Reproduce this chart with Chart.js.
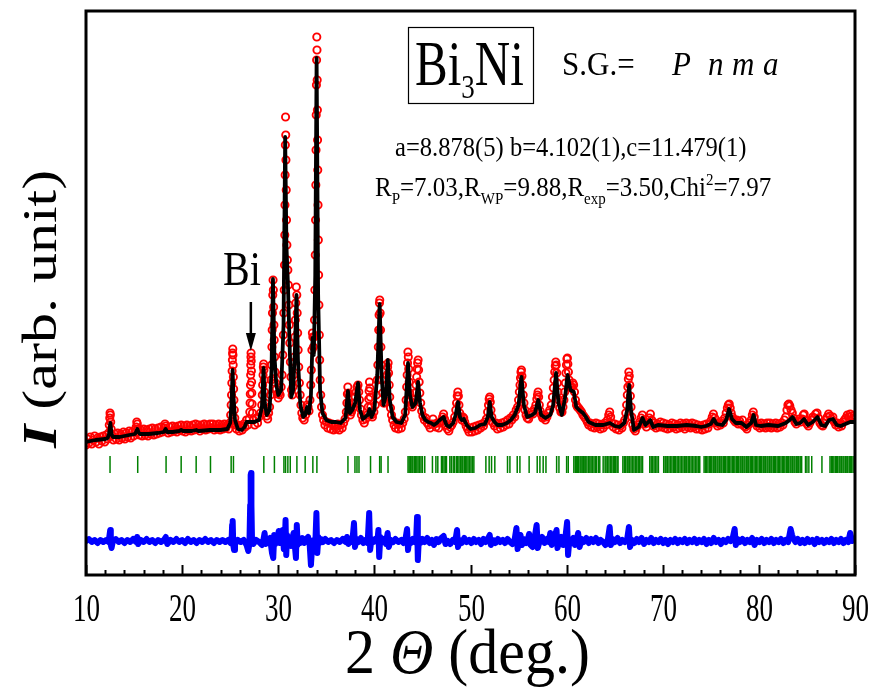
<!DOCTYPE html>
<html lang="en">
<head>
    <meta charset="UTF-8" />
    <title>Bi3Ni Rietveld refinement</title>
    <style>
        * { margin: 0; padding: 0; box-sizing: border-box; }
        body { background: #ffffff; width: 876px; height: 694px; overflow: hidden; }
        #xrdChart { display: block; }
    </style>
</head>
<body>
    <canvas id="xrdChart" width="876" height="694"></canvas>
    <script src="https://cdn.jsdelivr.net/npm/chart.js"></script>
    <script>
        // ---- data: 2theta (deg) / intensity (arb. unit) ----
        const observed = [
            [10.0,130],[10.15,136],[10.3,132],[10.45,138],[10.6,131],[10.75,135],[10.9,139],[11.05,133],[11.2,137],[11.35,131],
            [11.5,138],[11.65,134],[11.8,139],[11.95,133],[12.1,140],[12.25,136],
            [12.35,142],[12.42,150],[12.47,157],[12.5,162],[12.53,160],[12.57,153],[12.62,146],[12.7,140],
            [12.85,135],[13.0,141],[13.15,136],[13.3,142],[13.45,135],[13.6,141],[13.75,137],[13.9,143],[14.05,136],[14.2,142],
            [14.35,138],[14.5,144],[14.65,137],[14.8,143],[14.95,139],[15.1,145],
            [15.22,148],[15.28,153],[15.34,151],[15.42,146],
            [15.55,140],[15.7,145],[15.85,139],[16.0,146],[16.15,140],[16.3,145],[16.45,139],[16.6,146],[16.75,141],[16.9,147],
            [17.05,140],[17.2,146],[17.35,141],[17.5,147],[17.65,142],[17.8,148],[17.95,143],[18.1,147],[18.22,151],[18.3,149],
            [18.42,145],[18.55,142],[18.7,148],[18.85,143],[19.0,149],[19.15,144],[19.3,148],[19.45,143],[19.6,149],[19.75,145],
            [19.9,150],[20.05,144],[20.2,149],[20.35,143],[20.5,150],[20.65,145],[20.8,149],[20.95,144],[21.1,150],[21.25,145],
            [21.4,151],[21.55,146],[21.7,150],[21.85,144],[22.0,150],[22.15,146],[22.3,151],[22.45,145],[22.6,150],[22.75,146],
            [22.9,151],[23.05,147],[23.2,151],[23.35,145],[23.5,150],[23.65,146],[23.8,151],[23.95,145],[24.1,150],[24.25,146],
            [24.4,151],[24.55,147],[24.7,150],[24.85,146],[24.95,152],
            [25.05,160],[25.1,170],[25.14,180],[25.17,192],[25.2,204],[25.23,215],[25.25,222],[25.27,226],[25.29,220],[25.31,210],
            [25.33,198],[25.36,186],[25.39,175],[25.43,165],[25.48,157],[25.55,150],
            [25.65,146],[25.8,150],[25.95,144],[26.1,149],[26.25,145],[26.4,151],[26.55,148],[26.7,155],[26.85,150],[26.97,156],
            [27.04,163],[27.07,172],[27.09,181],[27.11,190],[27.13,200],[27.14,210],[27.16,218],[27.17,222],[27.19,214],[27.21,204],
            [27.23,193],[27.25,182],[27.28,171],[27.32,162],
            [27.4,155],[27.55,150],[27.7,157],[27.85,152],[28.0,158],[28.15,162],
            [28.28,170],[28.34,180],[28.38,190],[28.42,200],[28.45,208],[28.48,211],[28.51,205],[28.54,195],[28.58,183],[28.63,172],
            [28.7,164],[28.8,159],[28.9,156],[29.0,162],[29.1,168],
            [29.2,180],[29.26,195],[29.3,210],[29.34,228],[29.37,245],[29.4,262],[29.43,280],[29.46,295],[29.49,285],[29.52,268],
            [29.55,250],[29.58,235],[29.62,218],[29.67,203],[29.73,192],[29.8,186],[29.9,181],[30.0,177],[30.1,182],[30.2,180],
            [30.3,188],[30.4,200],
            [30.48,220],[30.53,240],[30.58,262],[30.62,285],[30.65,310],[30.68,340],[30.7,370],[30.72,400],[30.74,430],[30.76,458],
            [30.78,440],[30.8,415],[30.83,385],[30.86,355],[30.9,330],[30.95,315],[31.0,305],[31.05,290],[31.1,270],[31.15,250],
            [31.2,232],[31.26,213],[31.32,198],[31.38,185],[31.45,180],[31.52,188],[31.6,200],[31.67,218],[31.73,238],[31.78,255],
            [31.83,272],[31.88,288],[31.93,280],[31.97,262],[32.02,242],[32.07,225],[32.13,208],[32.2,192],[32.28,180],[32.36,170],
            [32.45,162],[32.55,157],[32.7,155],[32.85,160],[33.0,170],[33.1,168],[33.2,164],[33.3,175],[33.38,190],[33.44,205],
            [33.5,225],[33.55,242],[33.6,238],[33.66,228],[33.72,238],[33.77,255],[33.81,285],[33.85,320],[33.88,355],[33.91,390],
            [33.93,425],[33.95,460],[33.97,490],[33.99,515],[34.01,538],[34.03,525],[34.05,495],[34.07,465],[34.09,435],[34.11,405],
            [34.14,370],[34.17,335],[34.2,300],[34.23,270],[34.27,240],[34.31,215],[34.36,195],[34.42,180],[34.5,168],[34.6,160],
            [34.72,155],[34.85,150],[35.0,153],[35.15,147],[35.3,152],[35.45,146],[35.6,151],[35.75,145],[35.9,150],[36.05,146],
            [36.2,151],[36.35,145],[36.5,150],[36.65,147],[36.8,152],[36.95,156],
            [37.08,163],[37.14,172],[37.19,181],[37.24,188],[37.29,182],[37.34,172],[37.4,164],[37.5,160],[37.62,163],[37.75,167],
            [37.88,172],[38.0,178],[38.1,183],[38.2,188],[38.3,190],[38.38,183],[38.45,175],[38.55,166],[38.65,160],[38.8,155],
            [38.95,152],[39.1,156],[39.25,160],
            [39.36,168],[39.41,176],[39.45,184],[39.49,193],[39.53,187],[39.57,178],[39.62,168],[39.7,160],[39.8,158],[39.95,163],
            [40.1,170],[40.2,180],
            [40.3,195],[40.36,210],[40.41,228],[40.45,245],[40.49,260],[40.53,272],[40.56,275],[40.6,262],[40.64,245],[40.68,228],
            [40.73,210],[40.79,195],[40.86,182],[40.95,172],[41.05,172],[41.15,180],[41.25,190],[41.32,200],[41.38,208],[41.43,212],
            [41.48,202],[41.54,190],[41.6,178],[41.68,167],[41.78,160],[41.9,155],[42.05,150],[42.2,147],[42.35,152],[42.5,146],
            [42.65,151],[42.8,147],[42.95,152],[43.1,156],
            [43.22,163],[43.3,175],[43.36,188],[43.41,200],[43.45,212],[43.49,223],[43.53,218],[43.57,206],[43.62,193],[43.68,182],
            [43.76,174],[43.85,170],[43.95,168],[44.05,172],[44.15,176],[44.25,182],[44.33,190],[44.4,198],[44.45,206],[44.5,212],
            [44.55,215],[44.6,205],[44.66,193],[44.73,182],[44.82,172],[44.92,164],[45.05,159],[45.2,155],[45.35,157],[45.5,152],
            [45.65,150],[45.8,147],[45.95,151],[46.1,156],[46.25,151],[46.4,148],[46.55,152],[46.7,147],[46.85,152],[47.0,154],
            [47.1,158],[47.2,161],[47.3,156],[47.45,150],[47.6,146],[47.75,144],[47.9,148],[48.05,150],[48.2,153],[48.35,158],
            [48.47,165],[48.55,172],[48.62,179],[48.68,183],[48.74,179],[48.8,170],[48.88,162],[48.98,158],[49.1,155],[49.2,158],
            [49.3,157],[49.4,153],[49.55,149],[49.7,146],[49.85,143],[50.0,147],[50.15,143],[50.3,148],[50.45,144],[50.6,149],
            [50.75,145],[50.9,150],[51.05,147],[51.2,151],[51.35,149],[51.5,153],[51.65,156],[51.78,163],[51.87,170],[51.94,176],
            [52.0,178],[52.06,173],[52.13,165],[52.22,158],[52.35,152],[52.5,149],[52.65,152],[52.8,146],[52.95,151],[53.1,147],
            [53.25,152],[53.4,148],[53.55,153],[53.7,150],[53.85,155],[54.0,151],[54.15,157],[54.3,155],[54.45,160],[54.6,158],
            [54.75,165],[54.9,168],[55.0,175],
            [55.08,183],[55.15,190],[55.2,197],[55.25,203],[55.3,205],[55.35,199],[55.41,190],[55.48,180],[55.56,172],[55.66,165],
            [55.78,160],[55.9,157],[56.05,156],[56.2,160],[56.35,163],[56.5,161],[56.65,166],[56.8,170],[56.9,176],
            [56.97,180],[57.03,183],[57.09,178],[57.16,170],[57.25,164],[57.38,160],[57.5,157],[57.65,158],[57.8,155],[57.95,158],
            [58.1,162],[58.25,165],[58.4,170],[58.52,178],[58.62,187],
            [58.7,195],[58.76,203],[58.82,209],[58.87,213],[58.92,210],[58.97,202],[59.03,192],[59.1,183],[59.18,175],[59.28,167],
            [59.4,163],[59.52,163],[59.62,168],[59.72,175],[59.8,183],[59.87,192],[59.93,202],[59.98,210],[60.03,216],[60.08,217],
            [60.13,211],[60.19,203],[60.26,195],[60.35,190],[60.45,187],[60.55,188],[60.65,192],[60.73,190],[60.82,183],[60.92,175],
            [61.02,170],[61.12,168],[61.25,167],[61.4,165],[61.55,163],[61.7,160],[61.85,158],[62.0,156],[62.15,153],[62.3,150],
            [62.45,152],[62.6,148],[62.75,151],[62.9,147],[63.05,152],[63.2,148],[63.35,151],[63.5,146],[63.65,150],[63.8,147],
            [63.95,152],[64.1,150],[64.25,155],[64.38,160],[64.48,163],[64.58,158],[64.7,152],[64.85,148],[65.0,151],[65.15,146],
            [65.3,150],[65.45,145],[65.6,149],[65.75,147],[65.9,152],[66.05,155],[66.15,162],
            [66.24,170],[66.31,180],[66.37,188],[66.42,196],[66.47,203],[66.52,199],[66.57,190],[66.63,179],[66.7,168],[66.78,158],
            [66.88,150],[67.0,146],[67.15,144],[67.3,148],[67.45,150],[67.6,153],[67.75,157],[67.88,160],[68.0,155],[68.15,151],
            [68.3,148],[68.45,152],[68.6,157],[68.72,161],[68.85,155],[69.0,149],[69.15,152],[69.3,147],[69.45,151],[69.6,148],
            [69.75,153],[69.9,148],[70.05,152],[70.2,147],[70.35,151],[70.5,146],[70.65,150],[70.8,147],[70.95,152],[71.1,148],
            [71.25,151],[71.4,146],[71.55,150],[71.7,147],[71.85,152],[72.0,148],[72.15,151],[72.3,146],[72.45,152],[72.6,148],
            [72.75,151],[72.9,147],[73.05,152],[73.2,148],[73.35,151],[73.5,146],[73.65,150],[73.8,146],[73.95,149],[74.1,145],
            [74.25,150],[74.4,146],[74.55,151],[74.7,147],[74.85,151],[75.0,154],[75.15,158],[75.27,161],[75.4,157],[75.55,152],
            [75.7,149],[75.85,152],[76.0,150],[76.15,154],[76.3,152],[76.45,157],[76.6,162],[76.72,167],[76.82,170],[76.92,171],
            [77.02,167],[77.12,162],[77.25,158],[77.4,155],[77.55,153],[77.7,155],[77.85,151],[78.0,154],[78.15,151],[78.3,155],
            [78.45,149],[78.6,148],[78.75,146],[78.9,150],[79.05,152],[79.2,155],[79.32,160],[79.42,163],[79.52,158],[79.65,152],
            [79.8,149],[79.95,151],[80.1,147],[80.25,152],[80.4,148],[80.55,151],[80.7,147],[80.85,152],[81.0,148],[81.15,152],
            [81.3,147],[81.45,151],[81.6,148],[81.75,152],[81.9,147],[82.05,151],[82.2,148],[82.35,152],[82.5,150],[82.65,155],
            [82.8,158],[82.92,165],[83.02,170],[83.12,171],[83.22,169],[83.35,165],[83.48,162],[83.6,157],[83.75,153],[83.9,151],
            [84.05,154],[84.2,156],[84.35,153],[84.5,156],[84.62,160],[84.72,161],[84.85,155],[85.0,151],[85.15,149],[85.3,152],
            [85.45,155],[85.6,158],[85.75,157],[85.9,161],[86.05,162],[86.2,157],[86.35,152],[86.5,150],[86.65,149],[86.8,152],
            [86.95,155],[87.1,158],[87.25,161],[87.4,159],[87.55,156],[87.7,158],[87.85,153],[88.0,150],[88.15,152],[88.3,148],
            [88.45,151],[88.6,149],[88.75,153],[88.9,155],[89.05,157],[89.2,160],[89.35,158],[89.5,161],[89.65,159],[89.8,157],
            [89.95,160]
        ];

        const calculated = [
            [10.0,133],[11.0,135],[12.0,136],[12.25,137],[12.4,141],[12.53,152],[12.66,141],[12.8,138],[13.5,138],[14.5,140],
            [15.1,141],[15.25,144],[15.34,146],[15.45,143],[15.6,141],[16.5,141],[17.5,142],[18.1,143],[18.28,146],[18.45,143],
            [19.0,143],[19.7,144],[19.9,145],[20.1,144],[21.0,144],[21.46,145],[21.7,144],[22.9,145],[23.1,145],[24.0,145],
            [24.7,146],[25.0,152],[25.15,175],[25.25,205],[25.35,178],[25.5,155],[25.8,146],[26.2,145],[26.5,148],[26.7,153],
            [27.5,153],[28.0,155],[28.3,168],[28.47,207],[28.6,172],[28.8,160],[29.1,165],[29.3,205],[29.45,296],[29.6,220],
            [29.8,190],[30.0,180],[30.3,185],[30.55,250],[30.72,438],[30.85,330],[31.0,293],[31.15,240],[31.35,178],[31.55,185],
            [31.75,230],[31.9,280],[32.05,215],[32.3,170],[32.6,158],[32.8,160],[33.0,168],[33.2,162],[33.4,180],[33.57,237],
            [33.7,220],[33.85,300],[33.99,517],[34.15,280],[34.35,185],[34.6,162],[35.0,155],[35.5,153],[36.0,153],[36.5,152],
            [37.0,157],[37.25,184],[37.45,162],[37.7,165],[38.0,172],[38.3,192],[38.5,165],[38.8,156],[39.3,160],[39.5,166],
            [39.7,158],[40.0,165],[40.3,200],[40.55,271],[40.75,200],[40.95,170],[41.2,180],[41.4,215],[41.6,175],[41.9,158],
            [42.3,153],[42.8,152],[43.2,160],[43.35,185],[43.5,212],[43.7,180],[43.95,168],[44.3,172],[44.55,193],[44.75,172],
            [45.0,160],[45.3,155],[45.6,153],[45.9,152],[46.2,150],[46.5,152],[46.8,155],[47.2,158],[47.5,150],[47.8,148],
            [48.2,152],[48.45,160],[48.7,173],[48.9,158],[49.1,155],[49.3,156],[49.6,150],[50.0,146],[50.5,147],[51.0,150],
            [51.5,151],[51.8,158],[52.0,173],[52.2,158],[52.5,153],[52.8,150],[53.3,150],[53.8,152],[54.2,155],[54.6,160],
            [55.0,170],[55.3,198],[55.55,170],[55.9,158],[56.4,160],[56.7,162],[57.05,175],[57.35,160],[57.8,157],[58.3,160],
            [58.6,170],[58.9,202],[59.15,172],[59.5,160],[59.8,175],[60.1,200],[60.4,185],[60.75,183],[61.0,168],[61.3,165],
            [61.7,162],[62.0,158],[62.3,153],[63.0,150],[63.8,150],[64.5,152],[65.0,149],[65.5,148],[66.0,152],[66.3,165],
            [66.5,190],[66.7,165],[67.0,145],[67.5,148],[67.9,157],[68.2,150],[68.7,155],[69.0,148],[69.5,150],[70.5,149],
            [71.5,149],[72.5,150],[73.5,149],[74.0,148],[74.5,149],[75.0,151],[75.3,156],[75.6,151],[76.2,150],[76.6,155],
            [76.9,166],[77.2,156],[77.6,152],[78.2,152],[78.7,148],[79.2,152],[79.45,160],[79.7,150],[80.2,149],[81.0,150],
            [82.0,149],[82.8,152],[83.2,155],[83.5,158],[83.9,151],[84.3,152],[84.7,156],[85.1,150],[85.6,153],[86.1,158],
            [86.5,150],[86.9,149],[87.3,155],[87.7,156],[88.1,150],[88.5,149],[89.0,151],[89.5,153],[90.0,153]
        ];

        // observed - calculated, shifted below the pattern
        const difference = [
            [10.0,34],[10.3,36],[10.6,33],[10.9,35],[11.2,32],[11.5,35],[11.8,33],[12.1,35],[12.35,33],[12.45,40],
            [12.52,45],[12.58,30],[12.66,27],[12.8,34],[13.1,36],[13.4,33],[13.7,35],[14.0,32],[14.3,35],[14.6,33],
            [14.9,36],[15.2,33],[15.32,38],[15.42,31],[15.7,35],[16.0,33],[16.3,36],[16.6,33],[16.9,35],[17.2,32],
            [17.5,35],[17.8,33],[18.1,35],[18.3,38],[18.45,31],[18.8,35],[19.1,33],[19.4,36],[19.7,33],[20.0,35],
            [20.3,32],[20.6,36],[20.9,33],[21.2,35],[21.5,32],[21.8,35],[22.1,33],[22.4,36],[22.7,33],[23.0,35],
            [23.3,32],[23.6,35],[23.9,33],[24.2,35],[24.5,33],[24.8,35],[25.05,32],[25.15,36],[25.2,50],[25.26,54],
            [25.32,30],[25.4,25],[25.5,31],[25.8,35],[26.1,33],[26.4,35],[26.7,30],[26.88,24],[27.0,31],[27.08,70],
            [27.13,100],[27.17,102],[27.21,70],[27.27,36],[27.4,31],[27.7,35],[28.0,33],[28.3,30],[28.45,35],[28.58,42],
            [28.7,31],[28.95,35],[29.15,37],[29.35,22],[29.48,17],[29.58,40],[29.7,31],[29.9,35],[30.05,44],[30.15,32],
            [30.3,35],[30.45,45],[30.58,26],[30.7,38],[30.76,55],[30.83,20],[30.92,40],[31.05,33],[31.2,37],[31.32,29],
            [31.45,36],[31.6,42],[31.72,30],[31.84,17],[31.93,50],[32.02,30],[32.15,36],[32.3,32],[32.5,37],[32.7,32],
            [32.9,36],[33.1,38],[33.25,33],[33.4,10],[33.52,28],[33.7,35],[33.85,30],[33.97,62],[34.06,22],[34.18,38],
            [34.3,32],[34.45,36],[34.65,33],[34.9,36],[35.2,33],[35.5,35],[35.8,32],[36.1,35],[36.4,33],[36.7,36],
            [37.0,33],[37.15,38],[37.3,31],[37.5,35],[37.7,33],[37.88,52],[37.98,28],[38.15,36],[38.35,33],[38.6,37],
            [38.85,32],[39.1,35],[39.3,32],[39.46,62],[39.56,25],[39.7,36],[39.9,33],[40.1,36],[40.3,33],[40.42,45],
            [40.5,18],[40.62,38],[40.8,33],[41.0,36],[41.2,31],[41.38,42],[41.5,28],[41.7,35],[41.95,33],[42.2,36],
            [42.5,33],[42.8,35],[43.05,32],[43.25,37],[43.4,46],[43.5,25],[43.62,35],[43.8,32],[44.0,36],[44.2,33],
            [44.35,37],[44.44,58],[44.52,15],[44.62,35],[44.8,32],[45.0,36],[45.25,33],[45.5,37],[45.75,32],[46.0,35],
            [46.2,30],[46.45,36],[46.7,33],[46.95,37],[47.2,39],[47.4,31],[47.65,34],[47.9,31],[48.15,35],[48.4,33],
            [48.6,45],[48.7,28],[48.85,35],[49.1,32],[49.35,37],[49.6,33],[49.85,35],[50.1,32],[50.35,36],[50.6,33],
            [50.85,35],[51.1,31],[51.35,36],[51.6,33],[51.85,37],[52.0,40],[52.12,30],[52.35,35],[52.6,32],[52.85,36],
            [53.1,33],[53.35,35],[53.6,32],[53.85,36],[54.1,33],[54.35,31],[54.6,36],[54.78,47],[54.9,26],[55.05,35],
            [55.2,40],[55.35,30],[55.55,36],[55.8,32],[56.0,37],[56.1,41],[56.25,30],[56.45,28],[56.65,36],[56.88,50],
            [57.0,27],[57.2,34],[57.45,38],[57.7,32],[57.95,36],[58.15,33],[58.3,42],[58.45,30],[58.65,35],[58.95,45],
            [59.05,27],[59.25,34],[59.45,38],[59.65,30],[59.85,36],[60.05,53],[60.15,20],[60.3,36],[60.5,33],[60.7,37],
            [60.85,30],[61.05,36],[61.2,42],[61.35,28],[61.55,36],[61.8,33],[62.05,37],[62.3,32],[62.55,36],[62.8,33],
            [63.05,37],[63.3,32],[63.55,35],[63.8,33],[64.05,30],[64.3,36],[64.48,48],[64.6,30],[64.8,36],[65.05,33],
            [65.3,37],[65.55,32],[65.8,35],[66.05,33],[66.3,36],[66.48,48],[66.6,28],[66.8,35],[67.05,32],[67.3,36],
            [67.55,33],[67.8,37],[68.05,31],[68.3,35],[68.55,33],[68.8,37],[69.05,32],[69.3,35],[69.55,33],[69.8,36],
            [70.05,32],[70.3,35],[70.55,31],[70.8,35],[71.05,33],[71.3,36],[71.55,32],[71.8,35],[72.05,33],[72.3,36],
            [72.55,32],[72.8,35],[73.05,33],[73.3,36],[73.55,32],[73.8,35],[74.05,33],[74.3,36],[74.55,31],[74.8,35],
            [75.05,32],[75.3,37],[75.55,33],[75.8,35],[76.05,31],[76.3,35],[76.55,33],[76.8,36],[77.05,34],[77.3,38],
            [77.48,46],[77.6,30],[77.8,36],[78.05,33],[78.3,36],[78.55,32],[78.8,35],[79.05,33],[79.3,37],[79.55,30],
            [79.8,35],[80.05,33],[80.3,36],[80.55,32],[80.8,35],[81.05,33],[81.3,36],[81.55,32],[81.8,35],[82.05,33],
            [82.3,36],[82.55,32],[82.8,35],[83.05,33],[83.3,46],[83.45,40],[83.6,36],[83.8,33],[84.05,36],[84.3,32],
            [84.55,35],[84.8,32],[85.05,36],[85.3,33],[85.55,35],[85.8,31],[86.05,36],[86.3,33],[86.55,35],[86.8,32],
            [87.05,35],[87.3,33],[87.55,36],[87.8,32],[88.05,35],[88.3,33],[88.55,36],[88.8,32],[89.05,35],[89.3,33],
            [89.5,42],[89.7,34],[90.0,36]
        ];

        // Bragg reflection positions of Bi3Ni (Pnma)
        const braggPositions = [
            12.5,15.38,18.33,19.9,21.46,22.95,25.1,25.34,28.5,29.6,30.59,30.76,31.0,31.25,31.94,32.8,33.6,34.02,
            37.25,37.98,38.19,38.4,39.6,40.55,40.7,41.42,
            43.5,43.62,43.75,43.9,44.0,44.15,44.3,44.42,44.55,44.7,44.85,45.0,45.24,46.04,46.4,46.6,
            46.98,47.1,47.25,47.4,47.5,47.85,48.0,48.2,48.35,48.54,48.65,48.8,48.95,49.1,49.2,49.35,49.5,49.62,49.75,49.9,50.05,50.2,50.35,
            51.6,51.94,52.19,52.53,53.85,54.1,54.86,55.14,56.1,56.94,57.22,57.56,57.85,58.96,59.2,60.0,60.17,
            60.75,60.9,61.0,61.12,61.25,61.4,61.5,61.62,61.78,61.9,62.0,62.12,62.3,62.42,62.55,62.7,62.85,63.0,63.1,63.3,63.45,
            63.8,64.0,64.1,64.25,64.4,64.55,64.7,64.85,65.0,65.1,65.25,65.35,
            65.85,66.0,66.15,66.3,66.4,66.55,66.7,66.85,67.0,67.15,67.3,67.45,67.6,67.75,67.9,
            68.65,68.8,68.95,69.1,69.25,69.4,69.55,
            70.1,70.25,70.35,70.5,70.65,70.8,70.95,71.1,71.2,71.35,71.5,71.65,71.8,71.95,72.1,72.25,72.4,72.5,72.65,72.8,72.95,
            73.1,73.25,73.4,73.55,73.7,73.85,
            74.3,74.45,74.55,74.7,74.85,74.95,75.1,75.25,75.35,75.5,75.65,75.75,75.9,76.05,76.15,76.3,76.45,76.55,76.7,76.85,76.95,
            77.1,77.25,77.35,77.5,77.65,77.75,77.9,78.05,78.15,78.3,78.45,78.55,78.7,78.85,78.95,79.1,79.25,79.35,79.5,79.65,79.75,
            79.9,80.05,80.15,80.3,80.45,80.55,80.7,80.85,80.95,81.1,81.25,81.35,81.5,81.65,81.75,81.9,82.05,82.15,82.3,82.45,82.55,
            82.7,82.85,82.95,83.1,83.25,83.35,83.5,83.65,83.75,83.9,84.05,84.15,84.3,84.45,
            84.85,85.0,85.2,85.5,86.56,
            87.4,87.55,87.65,87.8,87.95,88.05,88.2,88.35,88.45,88.6,88.75,88.85,89.0,89.15,89.25,89.4,89.55,89.65,89.8,89.95
        ];
        const braggLevel = 110.5;   // height at which the reflection markers sit

        const tickLabels = [10, 20, 30, 40, 50, 60, 70, 80, 90];
        const minorTicks = [12,14,16,18,22,24,26,28,32,34,36,38,42,44,46,48,52,54,56,58,62,64,66,68,72,74,76,78,82,84,86,88];
        const biPeak = 27.15;

        const SERIF = '"Liberation Serif", "Times New Roman", serif';

        // text stretched vertically like the original figure
        function tallText(ctx, text, x, y, font, sy, align) {
            ctx.save();
            ctx.translate(x, y);
            ctx.scale(1, sy);
            ctx.font = font;
            ctx.textAlign = align || 'left';
            ctx.textBaseline = 'alphabetic';
            ctx.fillText(text, 0, 0);
            ctx.restore();
        }

        // runs of text with sub / superscripts: [text, size, dy, style]
        function richText(ctx, runs, x, y, sy) {
            let cx = x;
            runs.forEach(r => {
                const font = (r[3] || '') + ' ' + r[1] + 'px ' + SERIF;
                tallText(ctx, r[0], cx, y + (r[2] || 0), font, sy);
                ctx.save();
                ctx.font = font;
                cx += ctx.measureText(r[0]).width;
                ctx.restore();
            });
        }

        const decorations = {
            id: 'decorations',
            afterDraw(chart) {
                const ctx = chart.ctx;
                const area = chart.chartArea;
                const xs = chart.scales.x;
                ctx.save();
                ctx.fillStyle = '#000';
                ctx.strokeStyle = '#000';

                // frame
                ctx.lineWidth = 3;
                ctx.strokeRect(area.left, area.top, area.right - area.left, area.bottom - area.top);

                // bottom ticks, pointing inwards
                ctx.lineWidth = 2;
                tickLabels.forEach(v => {
                    const px = Math.round(xs.getPixelForValue(v)) + 0.5;
                    ctx.beginPath(); ctx.moveTo(px, area.bottom); ctx.lineTo(px, area.bottom - 10); ctx.stroke();
                    tallText(ctx, String(v), px, 621, '27px ' + SERIF, 1.45, 'center');
                });
                minorTicks.forEach(v => {
                    const px = Math.round(xs.getPixelForValue(v)) + 0.5;
                    ctx.beginPath(); ctx.moveTo(px, area.bottom); ctx.lineTo(px, area.bottom - 5); ctx.stroke();
                });

                // x axis title: 2 Θ (deg.)
                richText(ctx, [['2 ', 60, 0, ''], ['\u0398', 60, 0, 'italic'], [' (deg.)', 60, 0, '']], 345, 673, 1.05);

                // y axis title, rotated
                ctx.save();
                ctx.translate(56, 448);
                ctx.rotate(-Math.PI / 2);
                ctx.scale(1.25, 1);
                ctx.font = 'italic bold 48px ' + SERIF;
                ctx.textBaseline = 'alphabetic';
                ctx.fillText('I', 0, 0);
                const iw = ctx.measureText('I').width;
                ctx.font = '48px ' + SERIF;
                ctx.fillText(' (arb. unit)', iw, 0);
                ctx.restore();

                // compound name in a box
                ctx.lineWidth = 1.2;
                ctx.strokeRect(408.5, 27.5, 125, 76);
                richText(ctx, [['Bi', 49, 0, ''], ['3', 27, 13, ''], ['Ni', 49, 0, '']], 415, 85, 1.28);

                // space group
                tallText(ctx, 'S.G.=', 562, 75, '31px ' + SERIF, 1.12);
                [['P', 672], ['n', 708], ['m', 732], ['a', 763]].forEach(p => {
                    tallText(ctx, p[0], p[1], 75, 'italic 31px ' + SERIF, 1.12);
                });

                // lattice constants and agreement factors
                tallText(ctx, 'a=8.878(5) b=4.102(1),c=11.479(1)', 395, 156, '24.6px ' + SERIF, 1.12);
                richText(ctx, [
                    ['R', 25], ['P', 15, 8], ['=7.03,R', 25], ['WP', 15, 8], ['=9.88,R', 25],
                    ['exp', 15, 8], ['=3.50,Chi', 25], ['2', 15, -11], ['=7.97', 25]
                ], 375, 196, 1.1);

                // Bi impurity marker
                const bx = xs.getPixelForValue(biPeak);
                tallText(ctx, 'Bi', bx + 10, 285, '40px ' + SERIF, 1.2, 'right');
                ctx.lineWidth = 2.5;
                ctx.beginPath(); ctx.moveTo(bx, 302); ctx.lineTo(bx, 336); ctx.stroke();
                ctx.beginPath();
                ctx.moveTo(bx - 5, 333); ctx.lineTo(bx + 5, 333); ctx.lineTo(bx, 351); ctx.closePath();
                ctx.fill();

                ctx.restore();
            }
        };

        const toXY = arr => arr.map(p => ({ x: p[0], y: p[1] }));

        new Chart(document.getElementById('xrdChart').getContext('2d'), {
            type: 'scatter',
            data: {
                datasets: [
                    {
                        label: 'Calculated',
                        data: toXY(calculated),
                        showLine: true,
                        borderColor: '#000000',
                        borderWidth: 3.8,
                        borderJoinStyle: 'round',
                        borderCapStyle: 'round',
                        pointRadius: 0,
                        tension: 0,
                        order: 0
                    },
                    {
                        label: 'Observed',
                        data: toXY(observed),
                        showLine: false,
                        pointStyle: 'circle',
                        pointRadius: 3.6,
                        pointBorderWidth: 1.9,
                        pointBorderColor: '#ff0000',
                        pointBackgroundColor: 'rgba(255,255,255,0)',
                        order: 1
                    },
                    {
                        label: 'Difference',
                        data: toXY(difference),
                        showLine: true,
                        borderColor: '#0000ff',
                        borderWidth: 6,
                        borderJoinStyle: 'round',
                        borderCapStyle: 'round',
                        pointRadius: 0,
                        tension: 0,
                        order: 2
                    },
                    {
                        label: 'Bragg positions',
                        data: braggPositions.map(v => ({ x: v, y: braggLevel })),
                        showLine: false,
                        pointStyle: 'line',
                        pointRotation: 90,
                        pointRadius: 8.5,
                        pointBorderWidth: 1.5,
                        pointBorderColor: '#008000',
                        order: 3
                    }
                ]
            },
            options: {
                responsive: false,
                animation: false,
                events: [],
                layout: { padding: { left: 86, right: 21, top: 11, bottom: 119 } },
                plugins: { legend: { display: false }, tooltip: { enabled: false } },
                scales: {
                    x: { type: 'linear', min: 10, max: 90, display: false },
                    y: { type: 'linear', min: 0, max: 564, display: false }
                }
            },
            plugins: [decorations]
        });
    </script>
</body>
</html>
